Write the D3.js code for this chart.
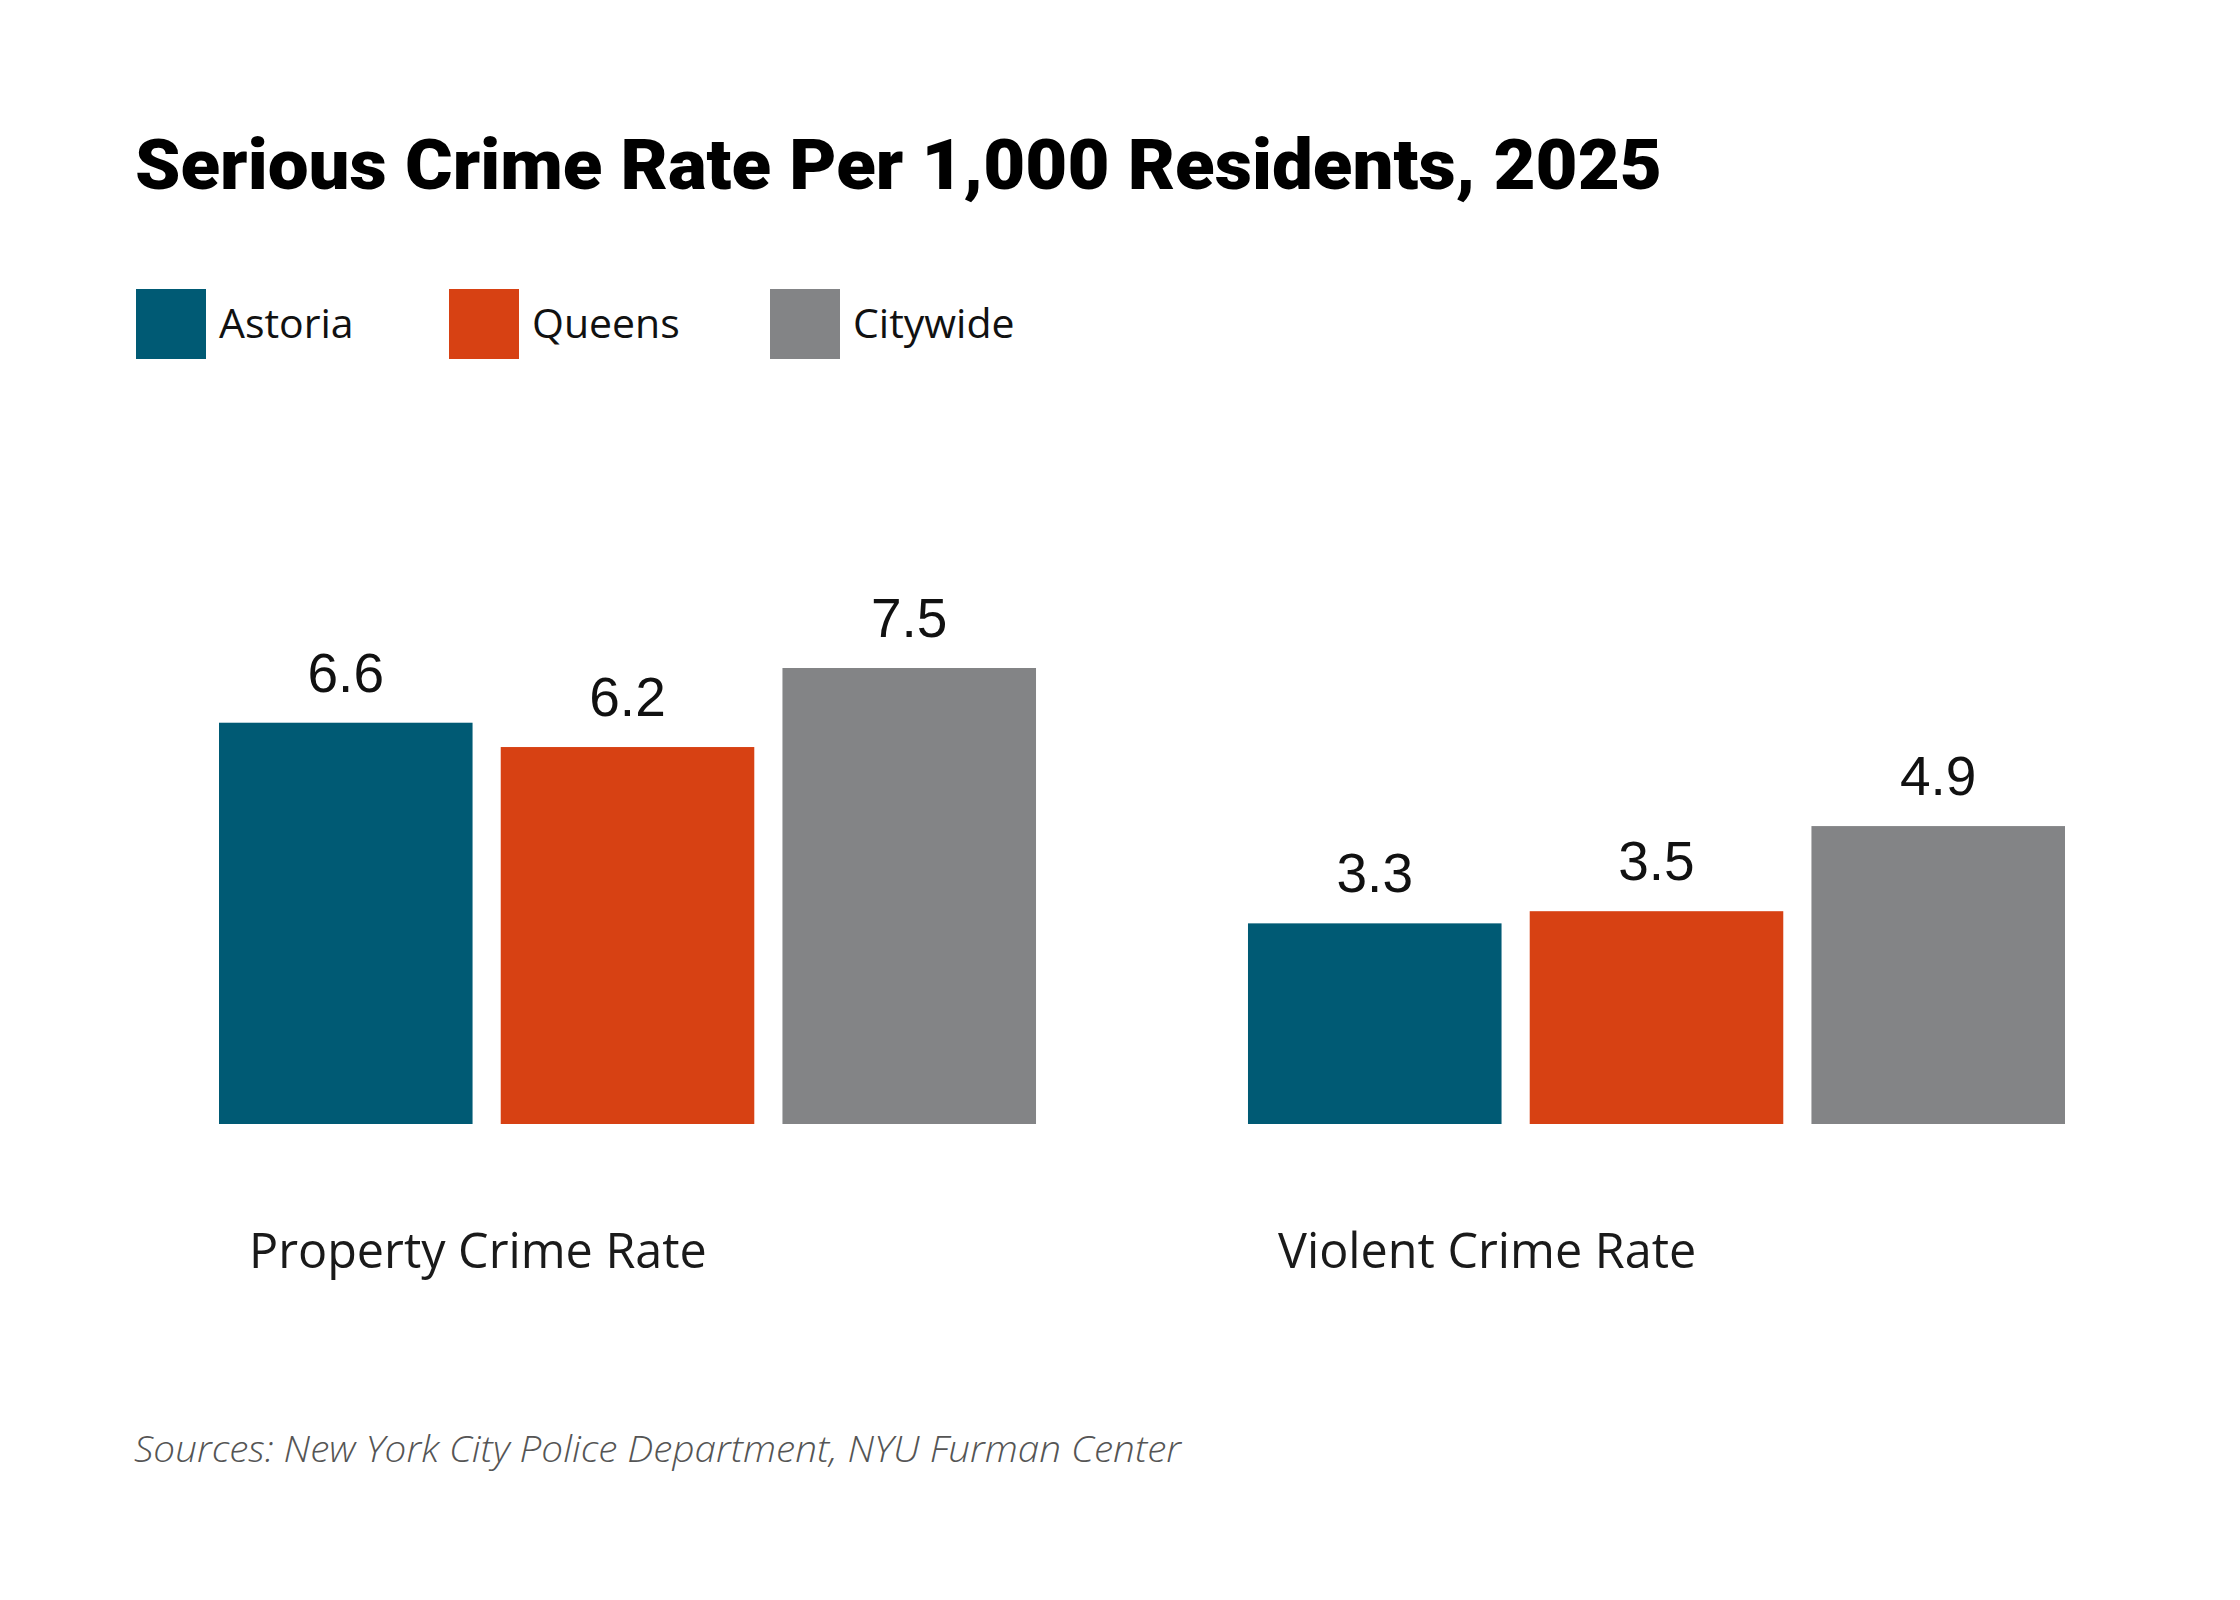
<!DOCTYPE html>
<html>
<head>
<meta charset="utf-8">
<script src="https://cdn.jsdelivr.net/npm/d3@7"></script>
<style>
  html, body { margin: 0; padding: 0; background: #fff; }
  svg { display: block; }
</style>
</head>
<body>
<svg id="chart" width="2240" height="1600"></svg>
<script>
// chart data
const categories = ['Property Crime Rate', 'Violent Crime Rate']
const seriesNames = ['Astoria', 'Queens', 'Citywide']
const astoria = [6.6, 3.3]
const queens = [6.2, 3.5]
const citywide = [7.5, 4.9]
const seriesColors = ['#005a74', '#d74113', '#838486']

const title = 'Serious Crime Rate Per 1,000 Residents, 2025'
const source = 'Sources: New York City Police Department, NYU Furman Center'

const seriesValues = [astoria, queens, citywide]
const rows = categories.map((c, i) => ({
  category: c,
  values: seriesNames.map((s, j) => ({ series: s, value: seriesValues[j][i] }))
}))

const svg = d3.select('#chart')

const x0 = d3.scaleBand()
  .domain(categories)
  .range([219, 2065])
  .paddingInner(0.206)

const x1 = d3.scaleBand()
  .domain(seriesNames)
  .range([0, x0.bandwidth()])
  .paddingInner(0.1)

const y = d3.scaleLinear()
  .domain([0, 7.5])
  .range([1124, 668])

const color = d3.scaleOrdinal().domain(seriesNames).range(seriesColors)

// title, stretched to the width of the original heading
svg.append('text')
  .attr('x', 135)
  .attr('y', 189)
  .attr('textLength', 1527)
  .attr('lengthAdjust', 'spacingAndGlyphs')
  .style('font-family', 'Roboto, "Open Sans", sans-serif')
  .style('font-weight', 900)
  .style('font-size', '70px')
  .attr('fill', '#000')
  .text(title)

// legend (item positions are layout, not data)
const legendLeft = [136, 449, 770]
const legendItem = svg.append('g')
  .attr('class', 'legend')
  .selectAll('g')
  .data(seriesNames)
  .join('g')
  .attr('transform', (d, i) => `translate(${legendLeft[i]},289)`)

legendItem.append('rect')
  .attr('width', 70)
  .attr('height', 70)
  .attr('fill', d => color(d))

legendItem.append('text')
  .attr('x', 83)
  .attr('y', 49)
  .style('font-family', '"Open Sans", sans-serif')
  .style('font-size', '41px')
  .attr('fill', '#111')
  .text(d => d)

// bars
const groups = svg.append('g')
  .selectAll('g')
  .data(rows)
  .join('g')
  .attr('transform', d => `translate(${x0(d.category)},0)`)

groups.selectAll('rect')
  .data(d => d.values)
  .join('rect')
  .attr('x', d => x1(d.series))
  .attr('y', d => y(d.value))
  .attr('width', x1.bandwidth())
  .attr('height', d => y(0) - y(d.value))
  .attr('fill', d => color(d.series))

groups.selectAll('text.value')
  .data(d => d.values)
  .join('text')
  .attr('class', 'value')
  .attr('x', d => x1(d.series) + x1.bandwidth() / 2)
  .attr('y', d => y(d.value) - 31)
  .attr('text-anchor', 'middle')
  .style('font-family', '"Liberation Sans", Arial, sans-serif')
  .style('font-size', '55px')
  .attr('fill', '#111')
  .text(d => d3.format('.1f')(d.value))

// category labels
groups.append('text')
  .attr('x', 30)
  .attr('y', 1268)
  .style('font-family', '"Open Sans", sans-serif')
  .style('font-size', '48.5px')
  .attr('fill', '#1a1a1a')
  .text(d => d.category)

// source note
svg.append('text')
  .attr('x', 134)
  .attr('y', 1462)
  .attr('textLength', 1047)
  .attr('lengthAdjust', 'spacingAndGlyphs')
  .style('font-family', '"Open Sans", sans-serif')
  .style('font-style', 'italic')
  .style('font-weight', 300)
  .style('font-size', '36px')
  .attr('fill', '#555')
  .text(source)
</script>
</body>
</html>
